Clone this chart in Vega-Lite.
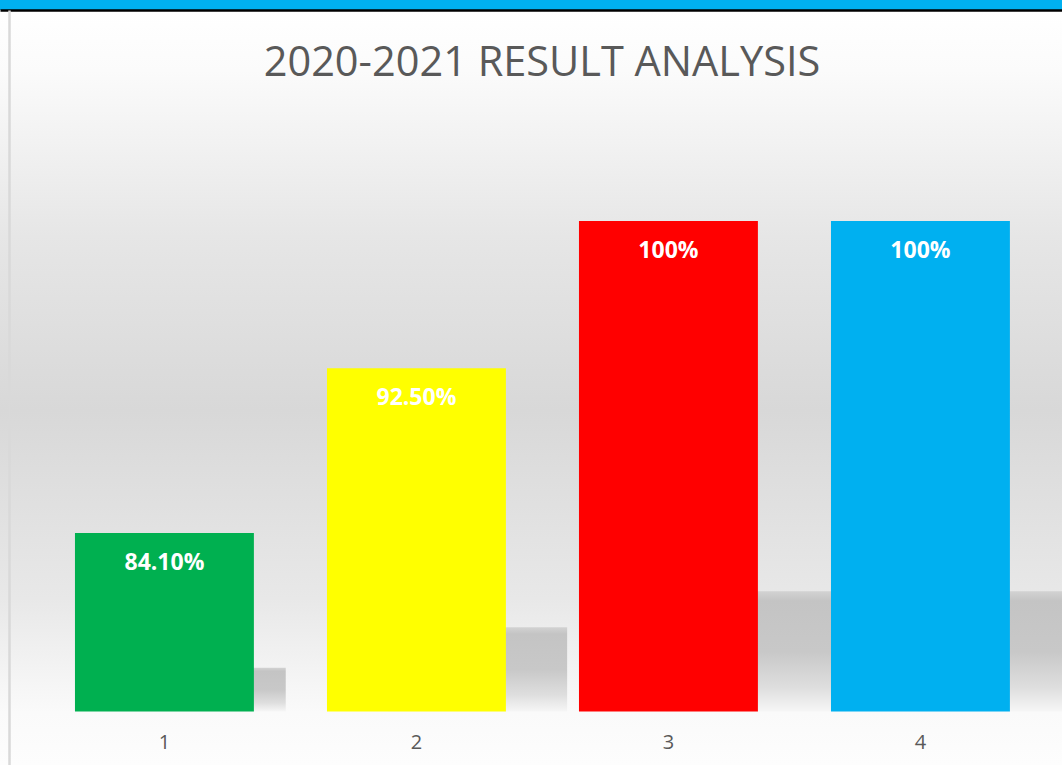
{
  "$schema": "https://vega.github.io/schema/vega-lite/v6.json",
  "autosize": "none",
  "width": 1062,
  "height": 755,
  "padding": {"top": 10, "left": 0, "right": 0, "bottom": 0},
  "background": "#00b0f0",
  "title": {
    "text": "2020-2021 RESULT ANALYSIS",
    "font": "Open Sans",
    "fontSize": 41.5,
    "fontWeight": "normal",
    "color": "#595959",
    "anchor": "middle",
    "offset": -74,
    "dx": 11
  },
  "config": {
    "view": {
      "stroke": null,
      "fill": {
        "gradient": "linear",
        "x1": 0, "y1": 0, "x2": 0, "y2": 1,
        "stops": [
          {"offset": 0, "color": "#ffffff"},
          {"offset": 0.08, "color": "#fbfbfb"},
          {"offset": 0.3, "color": "#e6e6e6"},
          {"offset": 0.53, "color": "#d8d8d8"},
          {"offset": 0.78, "color": "#e8e8e8"},
          {"offset": 0.93, "color": "#fafafa"},
          {"offset": 1, "color": "#fdfdfd"}
        ]
      }
    }
  },
  "data": {
    "values": [
      {"cat": "1", "value": 84.1, "label": "84.10%"},
      {"cat": "2", "value": 92.5, "label": "92.50%"},
      {"cat": "3", "value": 100, "label": "100%"},
      {"cat": "4", "value": 100, "label": "100%"}
    ]
  },
  "layer": [
    {
      "mark": {
        "type": "bar",
        "xOffset": {"expr": "(datum.value - 75) * 3.5"},
        "color": {
          "gradient": "linear",
          "x1": 0, "y1": 0, "x2": 0, "y2": 1,
          "stops": [
            {"offset": 0, "color": "#d2d2d2"},
            {"offset": 0.08, "color": "#c4c4c4"},
            {"offset": 0.5, "color": "#c8c8c8"},
            {"offset": 0.8, "color": "#dedede"},
            {"offset": 1, "color": "#f6f6f6"}
          ]
        }
      },
      "encoding": {
        "x": {
          "field": "cat", "type": "nominal", "sort": null,
          "scale": {"paddingInner": 0.29, "paddingOuter": 0.2521, "align": 0.59},
          "axis": {"orient": "top", "title": null, "labels": false, "ticks": false, "domain": true, "domainColor": "#000000", "domainWidth": 2.5, "grid": false}
        },
        "y": {
          "field": "value", "type": "quantitative",
          "scale": {"domain": [63.87, 220.93], "zero": false, "nice": false},
          "axis": null
        },
        "y2": {"datum": 75}
      }
    },
    {
      "layer": [
        {
          "mark": {"type": "bar"},
          "encoding": {
            "x": {
              "field": "cat", "type": "nominal", "sort": null,
              "axis": {"orient": "bottom", "title": null, "labelAngle": 0, "domain": false, "ticks": false, "tickSize": 0, "labelPadding": 0, "labelBaseline": "middle", "offset": -22.5, "labelFont": "Open Sans", "labelFontSize": 20, "labelColor": "#595959", "grid": false}
            },
            "y": {
              "field": "value", "type": "quantitative",
              "scale": {"domain": [72.273, 110.754], "zero": false, "nice": false},
              "axis": {"title": null, "labels": false, "ticks": false, "grid": false, "domain": true, "domainColor": "#d9d9d9", "domainWidth": 2.5, "offset": -9}
            },
            "y2": {"datum": 75},
            "color": {
              "field": "cat", "type": "nominal", "sort": null,
              "scale": {"domain": ["1", "2", "3", "4"], "range": ["#00b050", "#ffff00", "#ff0000", "#00b0f0"]},
              "legend": null
            }
          }
        },
        {
          "mark": {"type": "text", "dy": 30, "baseline": "middle", "align": "center", "font": "Open Sans", "fontSize": 23, "fontWeight": "bold", "color": "#ffffff"},
          "encoding": {
            "x": {"field": "cat", "type": "nominal", "sort": null},
            "y": {"field": "value", "type": "quantitative"},
            "text": {"field": "label", "type": "nominal"}
          }
        }
      ]
    }
  ],
  "resolve": {"scale": {"y": "independent"}, "axis": {"x": "independent", "y": "independent"}}
}
